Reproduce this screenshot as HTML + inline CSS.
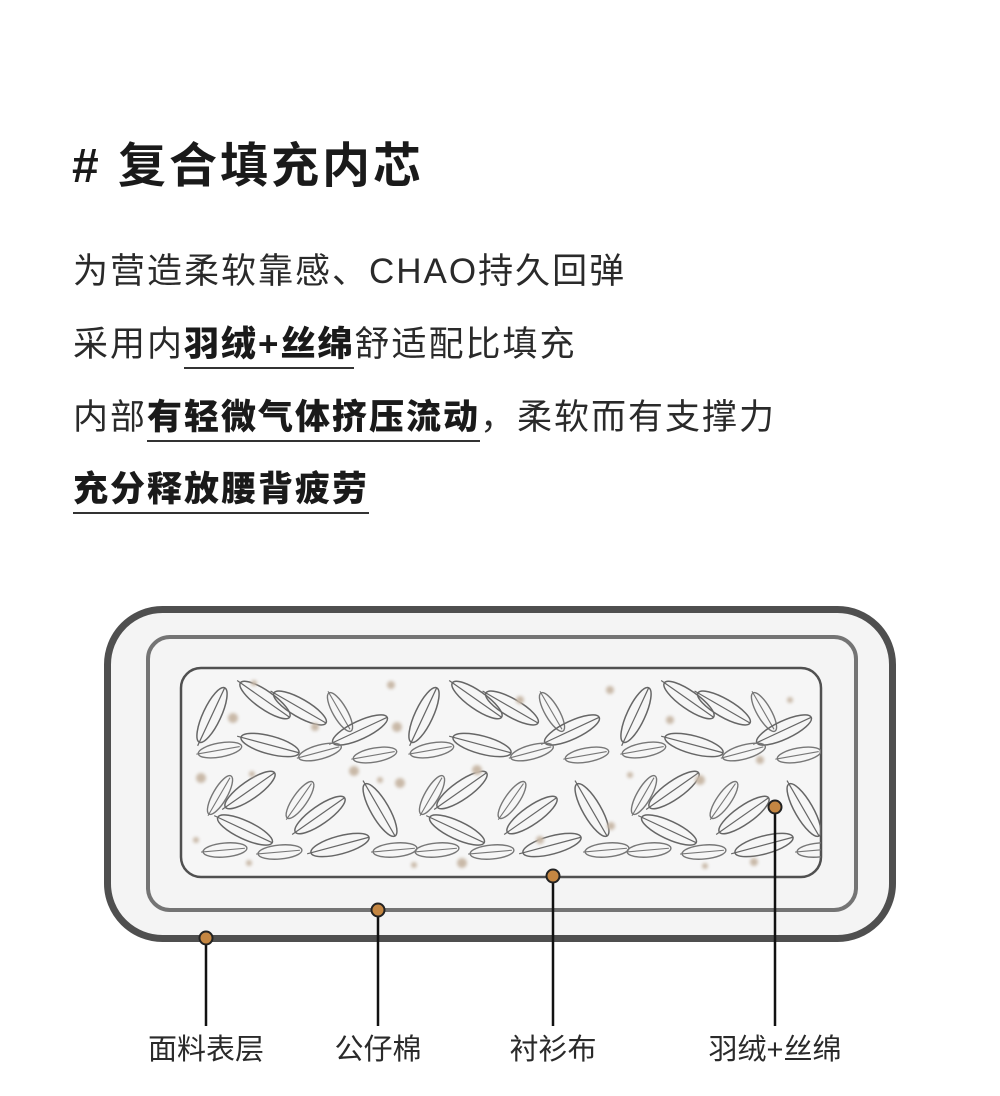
<!DOCTYPE html>
<html><head><meta charset="utf-8"><style>
body{margin:0;width:1000px;height:1096px;background:#fff;position:relative;overflow:hidden;font-family:"Liberation Sans","Noto Sans CJK SC",sans-serif;color:#222}
.t{position:absolute;white-space:nowrap}
.h{left:72px;top:126px;font-size:48px;font-weight:bold;color:#1a1a1a;letter-spacing:3px}
.p{left:73px;font-size:35px;letter-spacing:2px;color:#2a2a2a;line-height:40px}
.p b{font-weight:900;color:#1a1a1a;border-bottom:2px solid #333;padding-bottom:3px}
.lab{position:absolute;top:1026px;font-size:29px;color:#2a2a2a;transform:translateX(-50%);white-space:nowrap}
</style></head><body>
<div class="t h"># 复合填充内芯</div>
<div class="t p" style="top:252px">为营造柔软靠感、CHAO持久回弹</div>
<div class="t p" style="top:325px">采用内<b>羽绒+丝绵</b>舒适配比填充</div>
<div class="t p" style="top:398px">内部<b>有轻微气体挤压流动</b>，柔软而有支撑力</div>
<div class="t p" style="top:470px"><b>充分释放腰背疲劳</b></div>

<svg width="1000" height="1096" style="position:absolute;left:0;top:0">
<defs>
<filter id="bl"><feGaussianBlur stdDeviation="1.5"/></filter>
<g id="leaf"><ellipse cx="0" cy="0" rx="30" ry="9" fill="none" stroke="#666" stroke-width="1.5"/><line x1="-34" y1="0" x2="30" y2="0" stroke="#666" stroke-width="1.2"/></g>
<g id="leafs"><ellipse cx="0" cy="0" rx="22" ry="7" fill="none" stroke="#777" stroke-width="1.4"/><line x1="-24" y1="0" x2="20" y2="0" stroke="#777" stroke-width="1.1"/></g>
<clipPath id="cp"><rect x="181" y="668" width="640" height="209" rx="20"/></clipPath>
</defs>
<rect x="107.5" y="609.5" width="785" height="329" rx="55" fill="#f4f4f4" stroke="#4f4f4f" stroke-width="7"/>
<rect x="148" y="637" width="708" height="273" rx="22" fill="#f4f4f4" stroke="#747474" stroke-width="4"/>
<rect x="181" y="668" width="640" height="209" rx="20" fill="#f6f6f6" stroke="#505050" stroke-width="2.5"/>
<g clip-path="url(#cp)">
<g id="tile">
<use href="#leaf" transform="translate(212,715) rotate(-65)"/>
<use href="#leaf" transform="translate(265,700) rotate(35)"/>
<use href="#leaf" transform="translate(300,708) rotate(30)"/>
<use href="#leafs" transform="translate(340,712) rotate(60)"/>
<use href="#leaf" transform="translate(360,730) rotate(-25)"/>
<use href="#leafs" transform="translate(220,750) rotate(-10)"/>
<use href="#leaf" transform="translate(270,745) rotate(15)"/>
<use href="#leafs" transform="translate(320,752) rotate(-15)"/>
<use href="#leafs" transform="translate(375,755) rotate(-10)"/>
<use href="#leafs" transform="translate(220,795) rotate(-60)"/>
<use href="#leaf" transform="translate(250,790) rotate(-35)"/>
<use href="#leafs" transform="translate(300,800) rotate(-55)"/>
<use href="#leaf" transform="translate(320,815) rotate(-35)"/>
<use href="#leaf" transform="translate(380,810) rotate(60)"/>
<use href="#leaf" transform="translate(245,830) rotate(25)"/>
<use href="#leafs" transform="translate(225,850) rotate(-5)"/>
<use href="#leafs" transform="translate(280,852) rotate(-5)"/>
<use href="#leaf" transform="translate(340,845) rotate(-15)"/>
<use href="#leafs" transform="translate(395,850) rotate(-5)"/>
</g>
<use href="#tile" transform="translate(212,0)"/>
<use href="#tile" transform="translate(424,0)"/>
<g fill="#c9b9a8" filter="url(#bl)">
<circle cx="254" cy="683" r="3"/><circle cx="233" cy="718" r="5"/><circle cx="315" cy="727" r="4"/><circle cx="391" cy="685" r="4"/><circle cx="397" cy="727" r="5"/>
<circle cx="201" cy="778" r="5"/><circle cx="252" cy="774" r="3"/><circle cx="354" cy="771" r="5"/><circle cx="380" cy="780" r="3"/><circle cx="400" cy="783" r="5"/>
<circle cx="196" cy="840" r="3"/><circle cx="249" cy="863" r="3"/><circle cx="414" cy="865" r="3"/><circle cx="462" cy="863" r="5"/><circle cx="477" cy="770" r="5"/>
<circle cx="610" cy="690" r="4"/><circle cx="670" cy="720" r="4"/><circle cx="630" cy="775" r="3"/><circle cx="700" cy="780" r="5"/><circle cx="760" cy="760" r="4"/>
<circle cx="611" cy="826" r="4"/><circle cx="705" cy="866" r="3"/><circle cx="754" cy="862" r="4"/><circle cx="790" cy="700" r="3"/><circle cx="520" cy="700" r="4"/><circle cx="540" cy="840" r="4"/>
</g>
</g>
<g stroke="#111" stroke-width="2.5">
<line x1="206" y1="938" x2="206" y2="1026"/>
<line x1="378" y1="910" x2="378" y2="1026"/>
<line x1="553" y1="876" x2="553" y2="1026"/>
<line x1="775" y1="807" x2="775" y2="1026"/>
</g>
<g fill="#c48642" stroke="#222" stroke-width="2">
<circle cx="206" cy="938" r="6.5"/><circle cx="378" cy="910" r="6.5"/><circle cx="553" cy="876" r="6.5"/><circle cx="775" cy="807" r="6.5"/>
</g>
</svg>
<div class="lab" style="left:206px">面料表层</div>
<div class="lab" style="left:378px">公仔棉</div>
<div class="lab" style="left:553px">衬衫布</div>
<div class="lab" style="left:775px">羽绒+丝绵</div>
</body></html>
